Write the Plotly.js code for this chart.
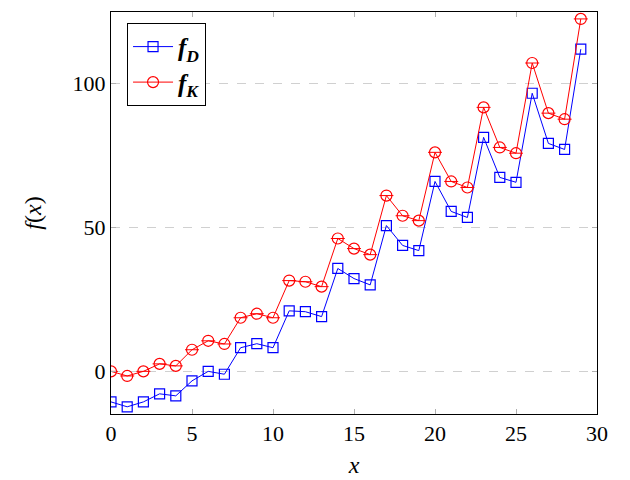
<!DOCTYPE html>
<html><head><meta charset="utf-8"><script src="https://cdn.plot.ly/plotly-3.0.1.min.js"></script></head>
<body style="margin:0">
<div style="position:absolute;left:-2000px;top:0;font-family:'Liberation Serif';font-size:22px">0123456789 f(x) <b><i>fDK</i></b></div>
<div id="plotDiv" style="width:630px;height:480px"></div>
<script>
// values
const xs = [0,1,2,3,4,5,6,7,8,9,10,11,12,13,14,15,16,17,18,19,20,21,22,23,24,25,26,27,28,29]
const fD = [-10.6,-12.3,-10.6,-7.8,-8.5,-3.3,0,-1,8.2,9.6,8.2,21,20.7,19,35.7,32.2,30,50.6,43.7,41.9,65.9,55.5,53.4,81.2,67.3,65.6,96.5,79.1,77,111.8]
const fK = [0,-1.6,0,2.6,1.9,7.5,10.6,9.5,18.6,20,18.6,31.5,31.1,29.4,46.1,42.6,40.5,61,54,52.3,76,65.9,63.8,91.6,77.7,75.7,107,89.6,87.5,122.3]
const xTicks = [0,5,10,15,20,25,30]
const yTicks = [0,50,100]

const traceD = {
	name: '<b><i>f</i><sub><i>D</i></sub></b>',
	x: xs, y: fD,
	type: 'scatter', mode: 'lines+markers',
	line: {color: '#0000ff', width: 1},
	marker: {symbol: 'square-open', size: 10, color: '#0000ff', line: {width: 1.2}}
}
const traceK = {
	name: '<b><i>f</i><sub><i>K</i></sub></b>',
	x: xs, y: fK,
	type: 'scatter', mode: 'lines+markers',
	line: {color: '#ff0000', width: 1},
	marker: {symbol: 'circle-open', size: 11, color: '#ff0000', line: {width: 1.2}}
}
// short horizontal stroke inside each circle
const traceKbar = {
	x: xs, y: fK,
	type: 'scatter', mode: 'markers', showlegend: false, hoverinfo: 'skip',
	marker: {symbol: 'line-ew-open', size: 10, color: '#ff0000', line: {width: 1, color: '#ff0000'}}
}

const layout = {
	width: 630, height: 480,
	font: {family: 'Liberation Serif', size: 22},
	margin: {l: 111, r: 33, t: 12, b: 66},
	showlegend: true,
	xaxis: {
		showline: true, linecolor: '#000', linewidth: 1, mirror: 'ticks',
		ticks: 'inside', ticklen: 5, tickcolor: '#b0b0b0', tickwidth: 1,
		zeroline: false, range: [0, 30], tickvals: xTicks, showgrid: false,
		tickfont: {color: '#000'},
		title: {text: '<i>x</i>', font: {size: 24, color: '#000'}, standoff: 10}
	},
	yaxis: {
		showline: true, linecolor: '#000', linewidth: 1, mirror: 'ticks',
		ticks: 'inside', ticklen: 5, tickcolor: '#b0b0b0', tickwidth: 1,
		zeroline: false, range: [-14.8, 124.7], tickvals: yTicks,
		showgrid: true, gridcolor: '#d0d0d0', griddash: 'dash', gridwidth: 1,
		tickfont: {color: '#000'},
		title: {text: '<i>f</i>(<i>x</i>)', font: {size: 24, color: '#000'}, standoff: 24}
	},
	legend: {
		x: 0.033, y: 0.973, xanchor: 'left', yanchor: 'top',
		bgcolor: '#fff', bordercolor: '#000', borderwidth: 1,
		font: {size: 25, color: '#000'},
		tracegroupgap: 0, itemwidth: 40
	}
}

Plotly.newPlot('plotDiv', [traceD, traceK, traceKbar], layout, {staticPlot: true})
</script>
</body></html>
